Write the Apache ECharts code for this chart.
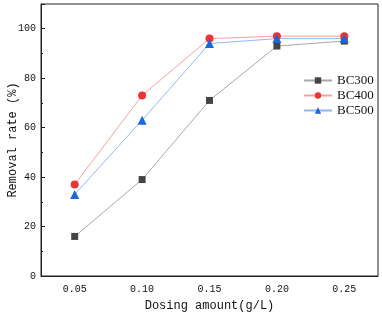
<!DOCTYPE html>
<html><head><meta charset="utf-8">
<script src="https://cdn.jsdelivr.net/npm/echarts@6/dist/echarts.min.js"></script>
<style>html,body{margin:0;padding:0;background:#fff}#c{width:382px;height:313px}</style>
</head><body><div id="c"></div>
<script>
const categories = ['0.05', '0.10', '0.15', '0.20', '0.25'];
const bc300 = [16, 39, 71, 93, 95];
const bc400 = [37, 73, 96, 97, 97];
const bc500 = [33, 63, 94, 96, 96];
const seriesNames = ['BC300', 'BC400', 'BC500'];

const chart = echarts.init(document.getElementById('c'));
const mono = 'Liberation Mono';
const serif = 'Liberation Serif';
function mk(name, data, symbol, mColor, lColor, size) {
  return {
    name, type: 'line', data, symbol, symbolSize: size,
    itemStyle: { color: mColor },
    lineStyle: { color: lColor, width: 1 },
    xAxisIndex: 0, yAxisIndex: 0, z: 3
  };
}
chart.setOption({
  animation: false,
  grid: { left: 41, right: 4, top: 4, bottom: 37, show: true, borderColor: '#222', borderWidth: 1,
          containLabel: false, outerBoundsMode: 'none' },
  legend: {
    data: seriesNames, orient: 'vertical', left: 298, top: 69,
    itemWidth: 28, itemHeight: 8, itemGap: 2,
    textStyle: { fontFamily: serif, fontSize: 13, color: '#111' }
  },
  xAxis: [{
    type: 'category', data: categories, boundaryGap: true,
    name: 'Dosing amount(g/L)', nameLocation: 'middle', nameGap: 24, nameMoveOverlap: false,
    nameTextStyle: { fontFamily: mono, fontSize: 12, color: '#111' },
    axisLine: { lineStyle: { color: '#222', width: 1 } },
    axisTick: { alignWithLabel: true, inside: true, length: 4, lineStyle: { color: '#222' } },
    axisLabel: { fontFamily: mono, fontSize: 10, color: '#111', margin: 8 },
    splitLine: { show: false }
  }, {
    type: 'category', data: categories, boundaryGap: true, position: 'bottom',
    axisLine: { show: false },
    axisTick: { alignWithLabel: false, inside: true, length: 2, lineStyle: { color: '#222' } },
    axisLabel: { show: false }, splitLine: { show: false }
  }],
  yAxis: {
    type: 'value', min: 0, max: 110, interval: 20,
    name: 'Removal rate (%)', nameLocation: 'middle', nameGap: 22, nameMoveOverlap: false,
    nameTextStyle: { fontFamily: mono, fontSize: 12, color: '#111' },
    axisLine: { show: true, lineStyle: { color: '#222', width: 1 } },
    axisTick: { show: true, inside: true, length: 4, lineStyle: { color: '#222' } },
    minorTick: { show: true, splitNumber: 2, length: 2, lineStyle: { color: '#222' } },
    axisLabel: { fontFamily: mono, fontSize: 10, color: '#111', margin: 5, showMaxLabel: false },
    splitLine: { show: false }
  },
  series: [
    mk('BC300', bc300, 'rect', '#444444', '#a8a8a8', 7),
    mk('BC400', bc400, 'circle', '#ee3333', '#f4a0a0', 8),
    mk('BC500', bc500, 'triangle', '#1a66dd', '#90b8f0', 9)
  ]
});
</script></body></html>
